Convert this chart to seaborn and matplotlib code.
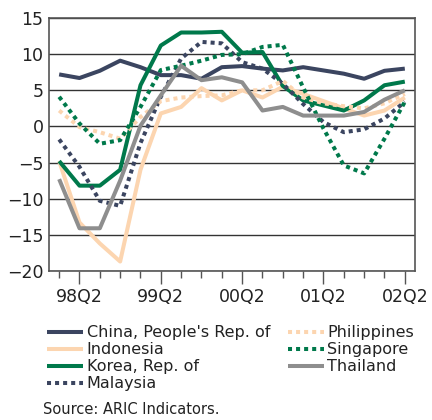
import matplotlib
matplotlib.use('Agg')
import matplotlib.pyplot as plt
import seaborn as sns
import pandas as pd
from matplotlib.ticker import FixedLocator

# quarterly growth, 98Q1 .. 02Q2
quarters = ['98Q1', '98Q2', '98Q3', '98Q4', '99Q1', '99Q2', '99Q3', '99Q4',
            '00Q1', '00Q2', '00Q3', '00Q4', '01Q1', '01Q2', '01Q3', '01Q4',
            '02Q1', '02Q2']
china = [7.2, 6.7, 7.7, 9.1, 8.2, 7.1, 7.1, 6.6, 8.2, 8.35, 8.0, 7.75, 8.2, 7.75, 7.3, 6.6, 7.7, 8.0]
indonesia = [-4.8, -13.3, -16.2, -18.7, -6.0, 1.8, 2.7, 5.3, 3.6, 5.0, 4.0, 5.5, 4.5, 3.5, 2.5, 1.5, 2.2, 4.0]
korea = [-4.8, -8.2, -8.2, -6.0, 5.7, 11.2, 13.0, 13.0, 13.1, 10.2, 10.3, 5.6, 3.6, 2.9, 2.2, 3.6, 5.7, 6.2]
malaysia = [-1.8, -5.6, -10.3, -11.0, -2.3, 4.1, 9.4, 11.7, 11.5, 8.9, 8.0, 5.9, 3.1, 0.6, -0.8, -0.4, 1.1, 3.4]
philippines = [2.2, -0.1, -0.8, -1.7, 1.3, 3.5, 4.0, 4.2, 4.3, 5.0, 5.0, 6.3, 4.0, 3.2, 2.8, 2.5, 3.2, 4.5]
singapore = [4.1, 0.4, -2.4, -1.9, 2.7, 7.8, 8.4, 9.1, 9.9, 10.0, 11.0, 11.3, 5.4, -0.3, -5.4, -6.5, -1.7, 3.4]
thailand = [-7.3, -14.1, -14.1, -7.5, 0.1, 4.3, 8.4, 6.4, 6.8, 6.1, 2.2, 2.7, 1.5, 1.5, 1.5, 2.0, 3.7, 5.0]

series = {
    "China, People's Rep. of": (china, '#3b4560', '-'),
    'Indonesia': (indonesia, '#fcd5b0', '-'),
    'Korea, Rep. of': (korea, '#00794b', '-'),
    'Malaysia': (malaysia, '#3b4560', (0, (1, 1))),
    'Philippines': (philippines, '#fcd5b0', (0, (1, 1))),
    'Singapore': (singapore, '#00794b', (0, (1, 1))),
    'Thailand': (thailand, '#8e8e8e', '-'),
}

sns.set_style('white')
plt.rcParams['font.family'] = ['DejaVu Sans']

fig = plt.figure(figsize=(4.32, 4.20), dpi=100)
ax = fig.add_axes([0.1134, 0.355, 0.8472, 0.602])

x = list(range(len(quarters)))
for name, (vals, col, ls) in series.items():
    df = pd.DataFrame({'q': x, 'v': vals})
    sns.lineplot(data=df, x='q', y='v', ax=ax, color=col, linestyle=ls,
                 linewidth=2.9, label=name, dash_capstyle='butt',
                 solid_capstyle='butt')

ax.set_xlim(-0.5, len(quarters) - 0.5)
ax.set_ylim(-20, 15)
ax.set_yticks(range(-20, 16, 5))
ax.yaxis.grid(True, color='#333333', linewidth=1.0)
ax.set_axisbelow(True)
ax.tick_params(axis='y', length=0, labelsize=12.5, labelcolor='#222222', pad=4)

major = [i for i, q in enumerate(quarters) if q.endswith('Q2')]
ax.xaxis.set_major_locator(FixedLocator(major))
ax.set_xticklabels([quarters[i] for i in major])
ax.xaxis.set_minor_locator(FixedLocator(x))
ax.tick_params(axis='x', which='major', direction='out', length=9, width=1,
               color='#555555', labelsize=12.5, labelcolor='#222222', pad=3,
               bottom=True)
ax.tick_params(axis='x', which='minor', direction='out', length=5, width=1,
               color='#555555', bottom=True)
ax.set_xlabel('')
ax.set_ylabel('')
for s in ax.spines.values():
    s.set_color('#555555')
    s.set_linewidth(1.2)

ax.legend_.remove()
handles, labels = ax.get_legend_handles_labels()
fig.legend(handles, labels, loc='upper left', bbox_to_anchor=(0.108, 0.225),
           ncol=2, frameon=False, fontsize=11.5, handlelength=2.3,
           handletextpad=0.2, columnspacing=1.1, labelspacing=0.12,
           borderaxespad=0, borderpad=0, labelcolor='#222222')

fig.text(0.10, 0.015, 'Source: ARIC Indicators.', fontsize=10.5, color='#222222')

fig.savefig('out.png', dpi=100)
